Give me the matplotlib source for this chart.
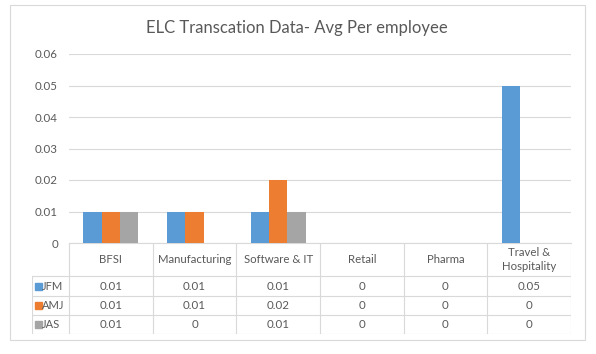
import numpy as np
import matplotlib.pyplot as plt
from matplotlib.patches import Rectangle

categories = ["BFSI", "Manufacturing", "Software & IT", "Retail", "Pharma", "Travel &\nHospitality"]
series = ["JFM", "AMJ", "JAS"]
jfm = [0.01, 0.01, 0.01, 0, 0, 0.05]
amj = [0.01, 0.01, 0.02, 0, 0, 0]
jas = [0.01, 0, 0.01, 0, 0, 0]
cell_text = [["0.01", "0.01", "0.01", "0", "0", "0.05"],
             ["0.01", "0.01", "0.02", "0", "0", "0"],
             ["0.01", "0", "0.01", "0", "0", "0"]]
yticks = [0, 0.01, 0.02, 0.03, 0.04, 0.05, 0.06]
colors = ["#5B9BD5", "#ED7D31", "#A5A5A5"]

W, H = 596, 354
txt = "#595959"
grid = "#D9D9D9"
plt.rcParams['font.family'] = ['Lato', 'DejaVu Sans']

fig = plt.figure(figsize=(W / 100, H / 100), dpi=100)

# outer chart border
fig.add_artist(Rectangle((10 / W, 1 - 340 / H), 575 / W, 335 / H, transform=fig.transFigure,
                         fill=False, edgecolor=grid, lw=0.8))

x0, x1, y0, y1 = 69, 571, 243, 54
ax = fig.add_axes([x0 / W, 1 - y0 / H, (x1 - x0) / W, (y0 - y1) / H])
n = len(categories)
x = np.arange(n)
bw = 0.22
for i, vals in enumerate([jfm, amj, jas]):
    ax.bar(x + (i - 1) * bw, vals, bw, color=colors[i], zorder=3)
ax.set_xlim(-0.5, n - 0.5)
ax.set_ylim(0, 0.06)
ax.set_yticks(yticks)
ax.set_yticklabels(["0"] + [f"{v:.2f}" for v in yticks[1:]], color=txt, fontsize=8.3)
ax.tick_params(axis='y', length=0, pad=8)
ax.set_xticks([])
ax.grid(axis='y', color=grid, lw=0.8, zorder=0)
for s in ["top", "right", "left"]:
    ax.spines[s].set_visible(False)
ax.spines["bottom"].set_color(grid)
ax.spines["bottom"].set_linewidth(0.8)
fig.text(297 / W, 1 - 28 / H, "ELC Transcation Data- Avg Per employee", color=txt,
         fontsize=12, ha="center", va="center")

# data table below the axis
tx0, ty0, ty1 = 32, 243, 334
tax = fig.add_axes([tx0 / W, 1 - ty1 / H, (x1 - tx0) / W, (ty1 - ty0) / H])
tax.set_xlim(tx0, x1)
tax.set_ylim(ty1, ty0)
tax.axis("off")
cw = (x1 - x0) / n
rows = [243, 276, 296, 315, 334]
for k in range(n + 1):
    xe = x0 + k * cw
    tax.plot([xe, xe], [rows[0], rows[-1]], color=grid, lw=0.8)
tax.plot([tx0, tx0], [rows[1], rows[-1]], color=grid, lw=0.8)
for r in rows[1:]:
    tax.plot([tx0, x1], [r, r], color=grid, lw=0.8)
for k, c in enumerate(categories):
    tax.text(x0 + (k + 0.5) * cw, (rows[0] + rows[1]) / 2, c, ha="center", va="center",
             color=txt, fontsize=8.2, linespacing=1.25)
for i, s in enumerate(series):
    yc = (rows[i + 1] + rows[i + 2]) / 2
    tax.add_patch(Rectangle((tx0 + 2.5, yc - 3.5), 7, 7, color=colors[i]))
    tax.text(tx0 + 10, yc, s, ha="left", va="center", color=txt, fontsize=8)
    for k in range(n):
        tax.text(x0 + (k + 0.5) * cw, yc, cell_text[i][k], ha="center", va="center",
                 color=txt, fontsize=8.3)

fig.savefig("out.png", dpi=100)
